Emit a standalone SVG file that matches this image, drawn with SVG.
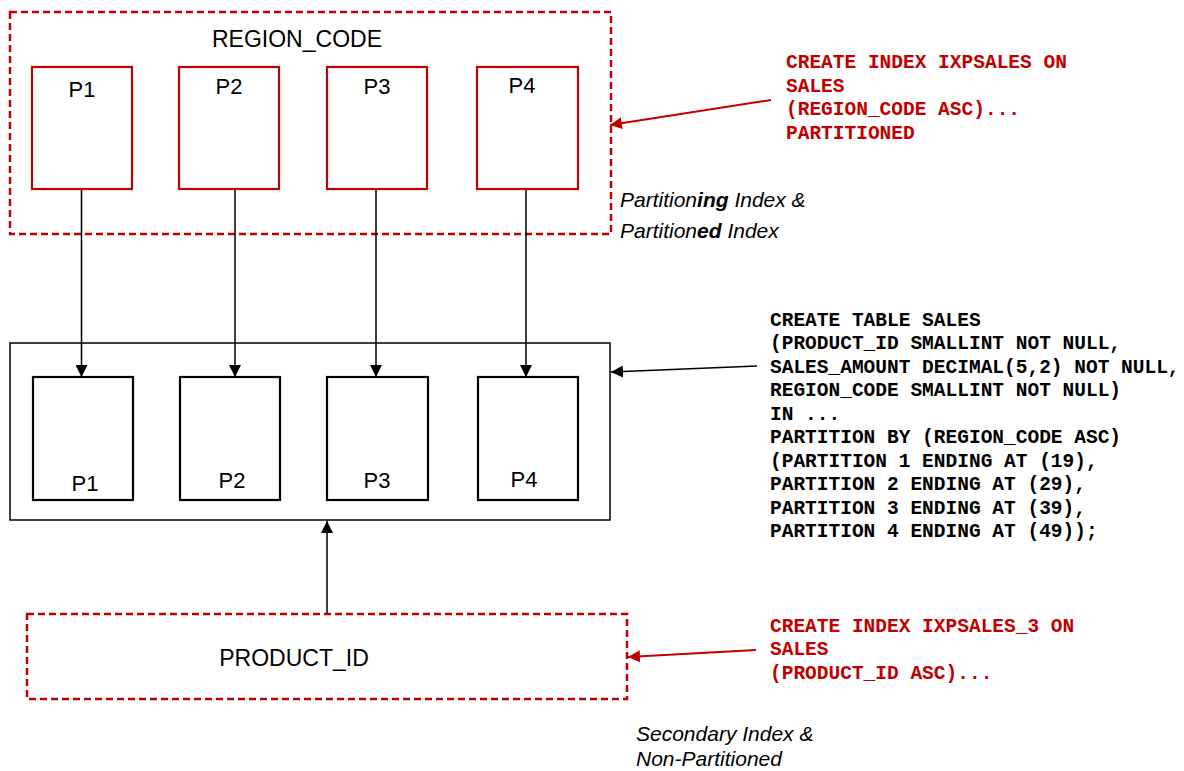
<svg xmlns="http://www.w3.org/2000/svg" width="1184" height="771" viewBox="0 0 1184 771">
  <style>
    .dash { fill: none; stroke: #C00000; stroke-width: 2.5; stroke-dasharray: 7 4; }
    .ipart { fill: #fff; stroke: #C00000; stroke-width: 2.2; }
    .tpart { fill: #fff; stroke: #000; stroke-width: 2.2; }
    .frame { fill: #fff; stroke: #000; stroke-width: 1.5; }
    .sans { font-family: "Liberation Sans", Arial, sans-serif; fill: #000; }
    .plabel { font-size: 22px; text-anchor: middle; }
    .big { font-size: 23px; text-anchor: middle; }
    .note { font-size: 21px; font-style: italic; }
    .code { font-family: "Liberation Mono", "Courier New", monospace; font-weight: bold; font-size: 19.5px; }
    .red { fill: #C00000; }
    .blk { fill: #000; }
    .wire { stroke: #000; stroke-width: 1.5; fill: none; }
    .wire-red { stroke: #C00000; stroke-width: 2; fill: none; }
  </style>
  <defs>
    <marker id="arrow" viewBox="0 0 12 12" refX="12" refY="6" markerWidth="12" markerHeight="12" markerUnits="userSpaceOnUse" orient="auto">
      <path d="M0,0 L12,6 L0,12 Z" fill="#000"/>
    </marker>
    <marker id="arrow-red" viewBox="0 0 12 12" refX="12" refY="6" markerWidth="12" markerHeight="12" markerUnits="userSpaceOnUse" orient="auto">
      <path d="M0,0 L12,6 L0,12 Z" fill="#C00000"/>
    </marker>
  </defs>

  <rect width="1184" height="771" fill="#fff"/>

  <!-- partitioned index on REGION_CODE -->
  <g id="region-index">
    <rect class="dash" x="10" y="12" width="601" height="222"/>
    <text class="sans big" x="297" y="47">REGION_CODE</text>
  </g>
  <g id="ix-p1">
    <rect class="ipart" x="32" y="67" width="100" height="122"/>
    <text class="sans plabel" x="82" y="97">P1</text>
  </g>
  <g id="ix-p2">
    <rect class="ipart" x="179" y="67" width="100" height="122"/>
    <text class="sans plabel" x="229" y="94">P2</text>
  </g>
  <g id="ix-p3">
    <rect class="ipart" x="327" y="67" width="100" height="122"/>
    <text class="sans plabel" x="377" y="94">P3</text>
  </g>
  <g id="ix-p4">
    <rect class="ipart" x="477" y="67" width="101" height="122"/>
    <text class="sans plabel" x="522" y="93">P4</text>
  </g>

  <!-- partitioned table -->
  <g id="sales-table">
    <rect class="frame" x="10" y="343" width="600" height="177"/>
  </g>
  <g id="tb-p1">
    <rect class="tpart" x="33" y="377" width="100" height="123"/>
    <text class="sans plabel" x="85" y="491">P1</text>
  </g>
  <g id="tb-p2">
    <rect class="tpart" x="180" y="377" width="100" height="123"/>
    <text class="sans plabel" x="232" y="488">P2</text>
  </g>
  <g id="tb-p3">
    <rect class="tpart" x="327" y="377" width="101" height="123"/>
    <text class="sans plabel" x="377" y="488">P3</text>
  </g>
  <g id="tb-p4">
    <rect class="tpart" x="478" y="377" width="100" height="123"/>
    <text class="sans plabel" x="524" y="487">P4</text>
  </g>

  <!-- non-partitioned secondary index on PRODUCT_ID -->
  <g id="product-index">
    <rect class="dash" x="27" y="614" width="600" height="85"/>
    <text class="sans big" x="294" y="666">PRODUCT_ID</text>
  </g>

  <!-- DDL statements -->
  <g id="ddl-ixpsales">
    <text class="code red" x="786" y="68">CREATE INDEX IXPSALES ON</text>
    <text class="code red" x="786" y="91.5">SALES</text>
    <text class="code red" x="786" y="115">(REGION_CODE ASC)...</text>
    <text class="code red" x="786" y="138.5">PARTITIONED</text>
  </g>
  <g id="ddl-table">
    <text class="code blk" x="770" y="325.5">CREATE TABLE SALES</text>
    <text class="code blk" x="770" y="349">(PRODUCT_ID SMALLINT NOT NULL,</text>
    <text class="code blk" x="770" y="372.5">SALES_AMOUNT DECIMAL(5,2) NOT NULL,</text>
    <text class="code blk" x="770" y="396">REGION_CODE SMALLINT NOT NULL)</text>
    <text class="code blk" x="770" y="419.5">IN ...</text>
    <text class="code blk" x="770" y="443">PARTITION BY (REGION_CODE ASC)</text>
    <text class="code blk" x="770" y="466.5">(PARTITION 1 ENDING AT (19),</text>
    <text class="code blk" x="770" y="490">PARTITION 2 ENDING AT (29),</text>
    <text class="code blk" x="770" y="513.5">PARTITION 3 ENDING AT (39),</text>
    <text class="code blk" x="770" y="537">PARTITION 4 ENDING AT (49));</text>
  </g>
  <g id="ddl-ixpsales3">
    <text class="code red" x="770" y="631.5">CREATE INDEX IXPSALES_3 ON</text>
    <text class="code red" x="770" y="655">SALES</text>
    <text class="code red" x="770" y="678.5">(PRODUCT_ID ASC)...</text>
  </g>

  <!-- captions -->
  <g id="caption-partitioned">
    <text class="sans note" x="620" y="207">Partition<tspan font-weight="bold">ing</tspan> Index &amp;</text>
    <text class="sans note" x="620" y="238">Partition<tspan font-weight="bold">ed</tspan> Index</text>
  </g>
  <g id="caption-secondary">
    <text class="sans note" x="636" y="741">Secondary Index &amp;</text>
    <text class="sans note" x="636" y="766">Non-Partitioned</text>
  </g>

  <!-- connectors -->
  <g id="connectors">
    <line class="wire" x1="81.5" y1="190" x2="81.5" y2="377" marker-end="url(#arrow)"/>
    <line class="wire" x1="235" y1="190" x2="235" y2="377" marker-end="url(#arrow)"/>
    <line class="wire" x1="376" y1="190" x2="376" y2="377" marker-end="url(#arrow)"/>
    <line class="wire" x1="526" y1="190" x2="526" y2="377" marker-end="url(#arrow)"/>
    <line class="wire" x1="327" y1="613" x2="327" y2="521" marker-end="url(#arrow)"/>
    <line class="wire" x1="757" y1="366" x2="611" y2="372" marker-end="url(#arrow)"/>
    <line class="wire-red" x1="771" y1="100" x2="610" y2="125" marker-end="url(#arrow-red)"/>
    <line class="wire-red" x1="756" y1="650" x2="628" y2="657" marker-end="url(#arrow-red)"/>
  </g>
</svg>
